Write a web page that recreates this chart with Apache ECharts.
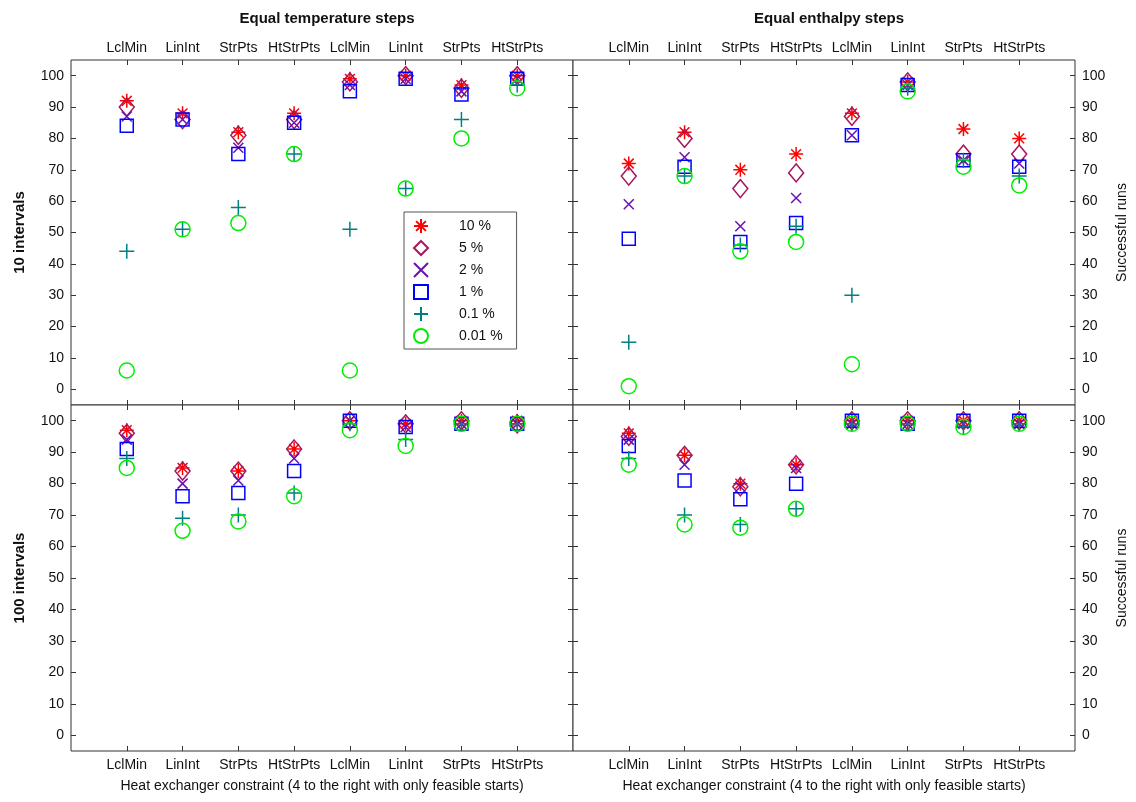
<!DOCTYPE html>
<html><head><meta charset="utf-8">
<script src="https://cdn.jsdelivr.net/npm/echarts@6/dist/echarts.min.js"></script>
<style>html,body{margin:0;padding:0;background:#fff}#c{width:1136px;height:802px}</style>
</head><body><div id="c"></div>
<script>
const categories = ['LclMin','LinInt','StrPts','HtStrPts','LclMin','LinInt','StrPts','HtStrPts'];
const levels = ['10 %','5 %','2 %','1 %','0.1 %','0.01 %'];
const yTicks = [0,10,20,30,40,50,60,70,80,90,100];
const panelTitles = ['Equal temperature steps','Equal enthalpy steps'];
const rowNames = ['10 intervals','100 intervals'];
const xName = 'Heat exchanger constraint (4 to the right with only feasible starts)';
const yRightName = 'Successful runs';

// Top-left: equal temperature steps, 10 intervals
const tempTen10   = [92, 88, 82, 88, 99, 100, 97, 100];
const tempTen5    = [90, 86, 81, 86, 98, 100, 96, 100];
const tempTen2    = [87, 86, 77, 85, 97, 99, 95, 99];
const tempTen1    = [84, 86, 75, 85, 95, 99, 94, 99];
const tempTen01   = [44, 51, 58, 75, 51, 64, 86, 97];
const tempTen001  = [6, 51, 53, 75, 6, 64, 80, 96];
// Top-right: equal enthalpy steps, 10 intervals
const enthTen10   = [72, 82, 70, 75, 88, 98, 83, 80];
const enthTen5    = [68, 80, 64, 69, 87, 98, 75, 75];
const enthTen2    = [59, 74, 52, 61, 81, 97, 73, 72];
const enthTen1    = [48, 71, 47, 53, 81, 97, 73, 71];
const enthTen01   = [15, 68, 46, 52, 30, 96, 73, 68];
const enthTen001  = [1, 68, 44, 47, 8, 95, 71, 65];
// Bottom-left: equal temperature steps, 100 intervals
const tempHun10   = [97, 85, 84, 91, 100, 99, 100, 100];
const tempHun5    = [96, 84, 84, 91, 100, 99, 100, 99];
const tempHun2    = [94, 80, 81, 88, 100, 98, 99, 99];
const tempHun1    = [91, 76, 77, 84, 100, 98, 99, 99];
const tempHun01   = [88, 69, 70, 77, 99, 94, 99, 99];
const tempHun001  = [85, 65, 68, 76, 97, 92, 99, 99];
// Bottom-right: equal enthalpy steps, 100 intervals
const enthHun10   = [96, 89, 80, 86, 100, 100, 100, 100];
const enthHun5    = [95, 89, 79, 86, 100, 100, 100, 100];
const enthHun2    = [94, 86, 79, 85, 99, 99, 99, 99];
const enthHun1    = [92, 81, 75, 80, 100, 99, 100, 100];
const enthHun01   = [88, 70, 67, 72, 99, 99, 98, 99];
const enthHun001  = [86, 67, 66, 72, 99, 99, 98, 99];

const panels = [
  [tempTen10, tempTen5, tempTen2, tempTen1, tempTen01, tempTen001],
  [enthTen10, enthTen5, enthTen2, enthTen1, enthTen01, enthTen001],
  [tempHun10, tempHun5, tempHun2, tempHun1, tempHun01, tempHun001],
  [enthHun10, enthHun5, enthHun2, enthHun1, enthHun01, enthHun001]
];

const FONT = 'Liberation Sans, Arial, sans-serif';
const styles = [
  {symbol:'path://M5,0L5,10M0,5L10,5M1.5,1.5L8.5,8.5M8.5,1.5L1.5,8.5', size:14, color:'#ff0000'},
  {symbol:'diamond', size:[15,18], color:'#a8165f'},
  {symbol:'path://M0,0L10,10M10,0L0,10', size:10, color:'#6a10b8'},
  {symbol:'rect', size:13, color:'#0000ff'},
  {symbol:'path://M5,0L5,10M0,5L10,5', size:15, color:'#008080'},
  {symbol:'circle', size:15, color:'#00ee00'}
];

const gridPos = [
  {left:71, top:60, width:502, height:345},
  {left:573, top:60, width:502, height:345},
  {left:71, top:405, width:502, height:346},
  {left:573, top:405, width:502, height:346}
];
const grids = gridPos.map(p => Object.assign({show:true, borderColor:'#333', borderWidth:1, backgroundColor:'#fff'}, p));

const xIdx = [1,2,3,4,5,6,7,8];
const tickStyle = {show:true, inside:true, length:5, lineStyle:{color:'#333'}};
const noLine = {show:false, onZero:false};
const xAxes = [];
const yAxes = [];
for (let g = 0; g < 4; g++) {
  const top = g < 2;
  xAxes.push({
    type:'value', gridIndex:g, min:0, max:9, interval:1,
    position: top ? 'top' : 'bottom',
    axisLine:noLine, splitLine:{show:false},
    axisTick: Object.assign({customValues:xIdx}, tickStyle),
    axisLabel:{show:true, customValues:xIdx, margin: top ? 5 : 7, fontFamily:FONT, fontSize:14, color:'#111',
      formatter: v => categories[v-1] || ''},
    name: top ? '' : xName, nameLocation:'middle', nameGap:28,
    nameTextStyle:{fontFamily:FONT, fontSize:14, color:'#111'}
  });
}
for (let g = 0; g < 4; g++) {
  const top = g < 2;
  xAxes.push({
    type:'value', gridIndex:g, min:0, max:9, interval:1,
    position: top ? 'bottom' : 'top',
    axisLine:noLine, splitLine:{show:false},
    axisTick: Object.assign({customValues:xIdx}, tickStyle),
    axisLabel:{show:false}
  });
}
for (let g = 0; g < 4; g++) {
  const left = g % 2 === 0;
  const top = g < 2;
  yAxes.push({
    type:'value', gridIndex:g, min:-5, max:105,
    position: left ? 'left' : 'right',
    axisLine:noLine, splitLine:{show:false},
    axisTick: Object.assign({customValues:yTicks}, tickStyle),
    axisLabel:{show:true, customValues:yTicks, margin:7, fontFamily:FONT, fontSize:14, color:'#111'},
    name: left ? rowNames[top ? 0 : 1] : yRightName,
    nameLocation:'middle', nameGap: left ? 44 : 40,
    nameTextStyle: left ? {fontFamily:FONT, fontSize:15, fontWeight:'bold', color:'#111'}
                        : {fontFamily:FONT, fontSize:14, color:'#111'}
  });
}
for (let g = 0; g < 4; g++) {
  const left = g % 2 === 0;
  yAxes.push({
    type:'value', gridIndex:g, min:-5, max:105,
    position: left ? 'right' : 'left',
    axisLine:noLine, splitLine:{show:false},
    axisTick: Object.assign({customValues:yTicks}, tickStyle),
    axisLabel:{show:false}
  });
}

const series = [];
for (let g = 0; g < 4; g++) {
  panels[g].forEach((vals, k) => {
    const s = styles[k];
    series.push({
      type:'scatter', name:levels[k], xAxisIndex:g, yAxisIndex:g,
      symbol:s.symbol, symbolSize:s.size, symbolKeepAspect:false,
      itemStyle:{color:'transparent', borderColor:s.color, borderWidth:1.5, opacity:1},
      emphasis:{disabled:true}, z: 2 + k,
      data: vals.map((v, i) => [xIdx[i], v])
    });
  });
}

const chart = echarts.init(document.getElementById('c'), null, {renderer:'canvas'});
chart.setOption({
  animation:false,
  backgroundColor:'#fff',
  title:[
    {text:panelTitles[0], left:322, top:6, textAlign:'center',
     textStyle:{fontFamily:FONT, fontSize:15, fontWeight:'bold', color:'#111'}},
    {text:panelTitles[1], left:824, top:6, textAlign:'center',
     textStyle:{fontFamily:FONT, fontSize:15, fontWeight:'bold', color:'#111'}}
  ],
  legend:{
    data: levels, orient:'vertical', left:404, top:212,
    backgroundColor:'#fff', borderColor:'#555', borderWidth:1,
    padding:[6,14,5,9], itemGap:6, itemWidth:14, itemHeight:14,
    textStyle:{fontFamily:FONT, fontSize:14, color:'#111', padding:[0,0,0,26]},
    selectedMode:false, z:20
  },
  grid: grids,
  xAxis: xAxes,
  yAxis: yAxes,
  series: series
});
</script>
</body></html>
